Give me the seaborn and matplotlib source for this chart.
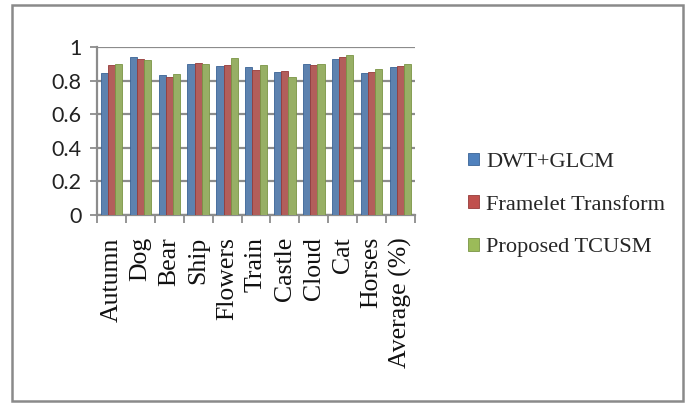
import matplotlib
matplotlib.use("Agg")
import matplotlib.pyplot as plt
import matplotlib.patches as mpatches
import numpy as np
import pandas as pd
import seaborn as sns

# Per-image accuracy for three retrieval methods
categories = ["Autumn", "Dog", "Bear", "Ship", "Flowers", "Train",
              "Castle", "Cloud", "Cat", "Horses", "Average (%)"]
dwt_glcm = [0.845, 0.940, 0.835, 0.896, 0.888, 0.882, 0.851, 0.896, 0.931, 0.843, 0.882]
framelet = [0.890, 0.930, 0.820, 0.906, 0.894, 0.863, 0.855, 0.890, 0.941, 0.853, 0.884]
tcusm = [0.896, 0.924, 0.837, 0.898, 0.935, 0.890, 0.820, 0.900, 0.951, 0.867, 0.900]
methods = ["DWT+GLCM", "Framelet Transform", "Proposed TCUSM"]
colors = ["#4F81BD", "#C0504D", "#9BBB59"]
edges = ["#3A6396", "#963B39", "#7A9545"]
y_ticks = [0, 0.2, 0.4, 0.6, 0.8, 1]
y_tick_labels = ["0", "0.2", "0.4", "0.6", "0.8", "1"]

df = pd.DataFrame({
    "Image": categories * 3,
    "Method": [m for m in methods for _ in categories],
    "Value": dwt_glcm + framelet + tcusm,
})

sns.set_style("white")
W, H = 689, 403
fig = plt.figure(figsize=(W / 100, H / 100), dpi=100)
ax = fig.add_axes([97 / W, 1 - 215 / H, 318 / W, 168 / H])

sns.barplot(data=df, x="Image", y="Value", hue="Method", order=categories,
            hue_order=methods, palette=colors, width=0.74, ax=ax,
            errorbar=None, legend=False, zorder=3)
for container, ec in zip(ax.containers, edges):
    for bar in container:
        bar.set_edgecolor(ec)
        bar.set_linewidth(0.6)

grid_c = "#8C8C8C"
ax.set_ylim(0, 1)
ax.set_xlim(-0.5, len(categories) - 0.5)
ax.set_yticks(y_ticks)
ax.set_yticklabels(y_tick_labels, fontfamily="Lato", fontsize=15.5, color="#222222")
ax.yaxis.grid(True, color=grid_c, linewidth=1.6, zorder=0)
ax.set_axisbelow(True)
ax.tick_params(axis="y", length=5, width=1.3, color=grid_c, pad=6, left=True)

ax.set_xticks(range(len(categories)))
ax.set_xticklabels(categories, rotation=90, fontfamily="Liberation Serif",
                   fontsize=18.5, color="#111111", va="top", ha="center")
ax.tick_params(axis="x", which="major", length=0, pad=16)
ax.set_xticks(np.arange(-0.5, len(categories), 1.0), minor=True)
ax.tick_params(axis="x", which="minor", length=6, width=1.3, color=grid_c, bottom=True)
ax.set_xlabel("")
ax.set_ylabel("")

for side in ["top", "right"]:
    ax.spines[side].set_visible(False)
for side in ["left", "bottom"]:
    ax.spines[side].set_color(grid_c)
    ax.spines[side].set_linewidth(1.6)

handles = [mpatches.Patch(facecolor=c, edgecolor=e, linewidth=0.6, label=m)
           for c, e, m in zip(colors, edges, methods)]
fig.legend(handles=handles, loc="center left", bbox_to_anchor=(457 / W, 1 - 205 / H),
           frameon=False, prop={"family": "Liberation Serif", "size": 16.1},
           handlelength=0.5, handleheight=0.5, handletextpad=0.3,
           labelspacing=1.05, borderpad=0)

# Chart-area frame
fig.patches.append(mpatches.Rectangle((12 / W, 1 - 401 / H), 671 / W, 396 / H,
                                      transform=fig.transFigure, fill=False,
                                      edgecolor="#8A8A8A", linewidth=1.8))

fig.savefig("out.png", dpi=100, facecolor="white")
